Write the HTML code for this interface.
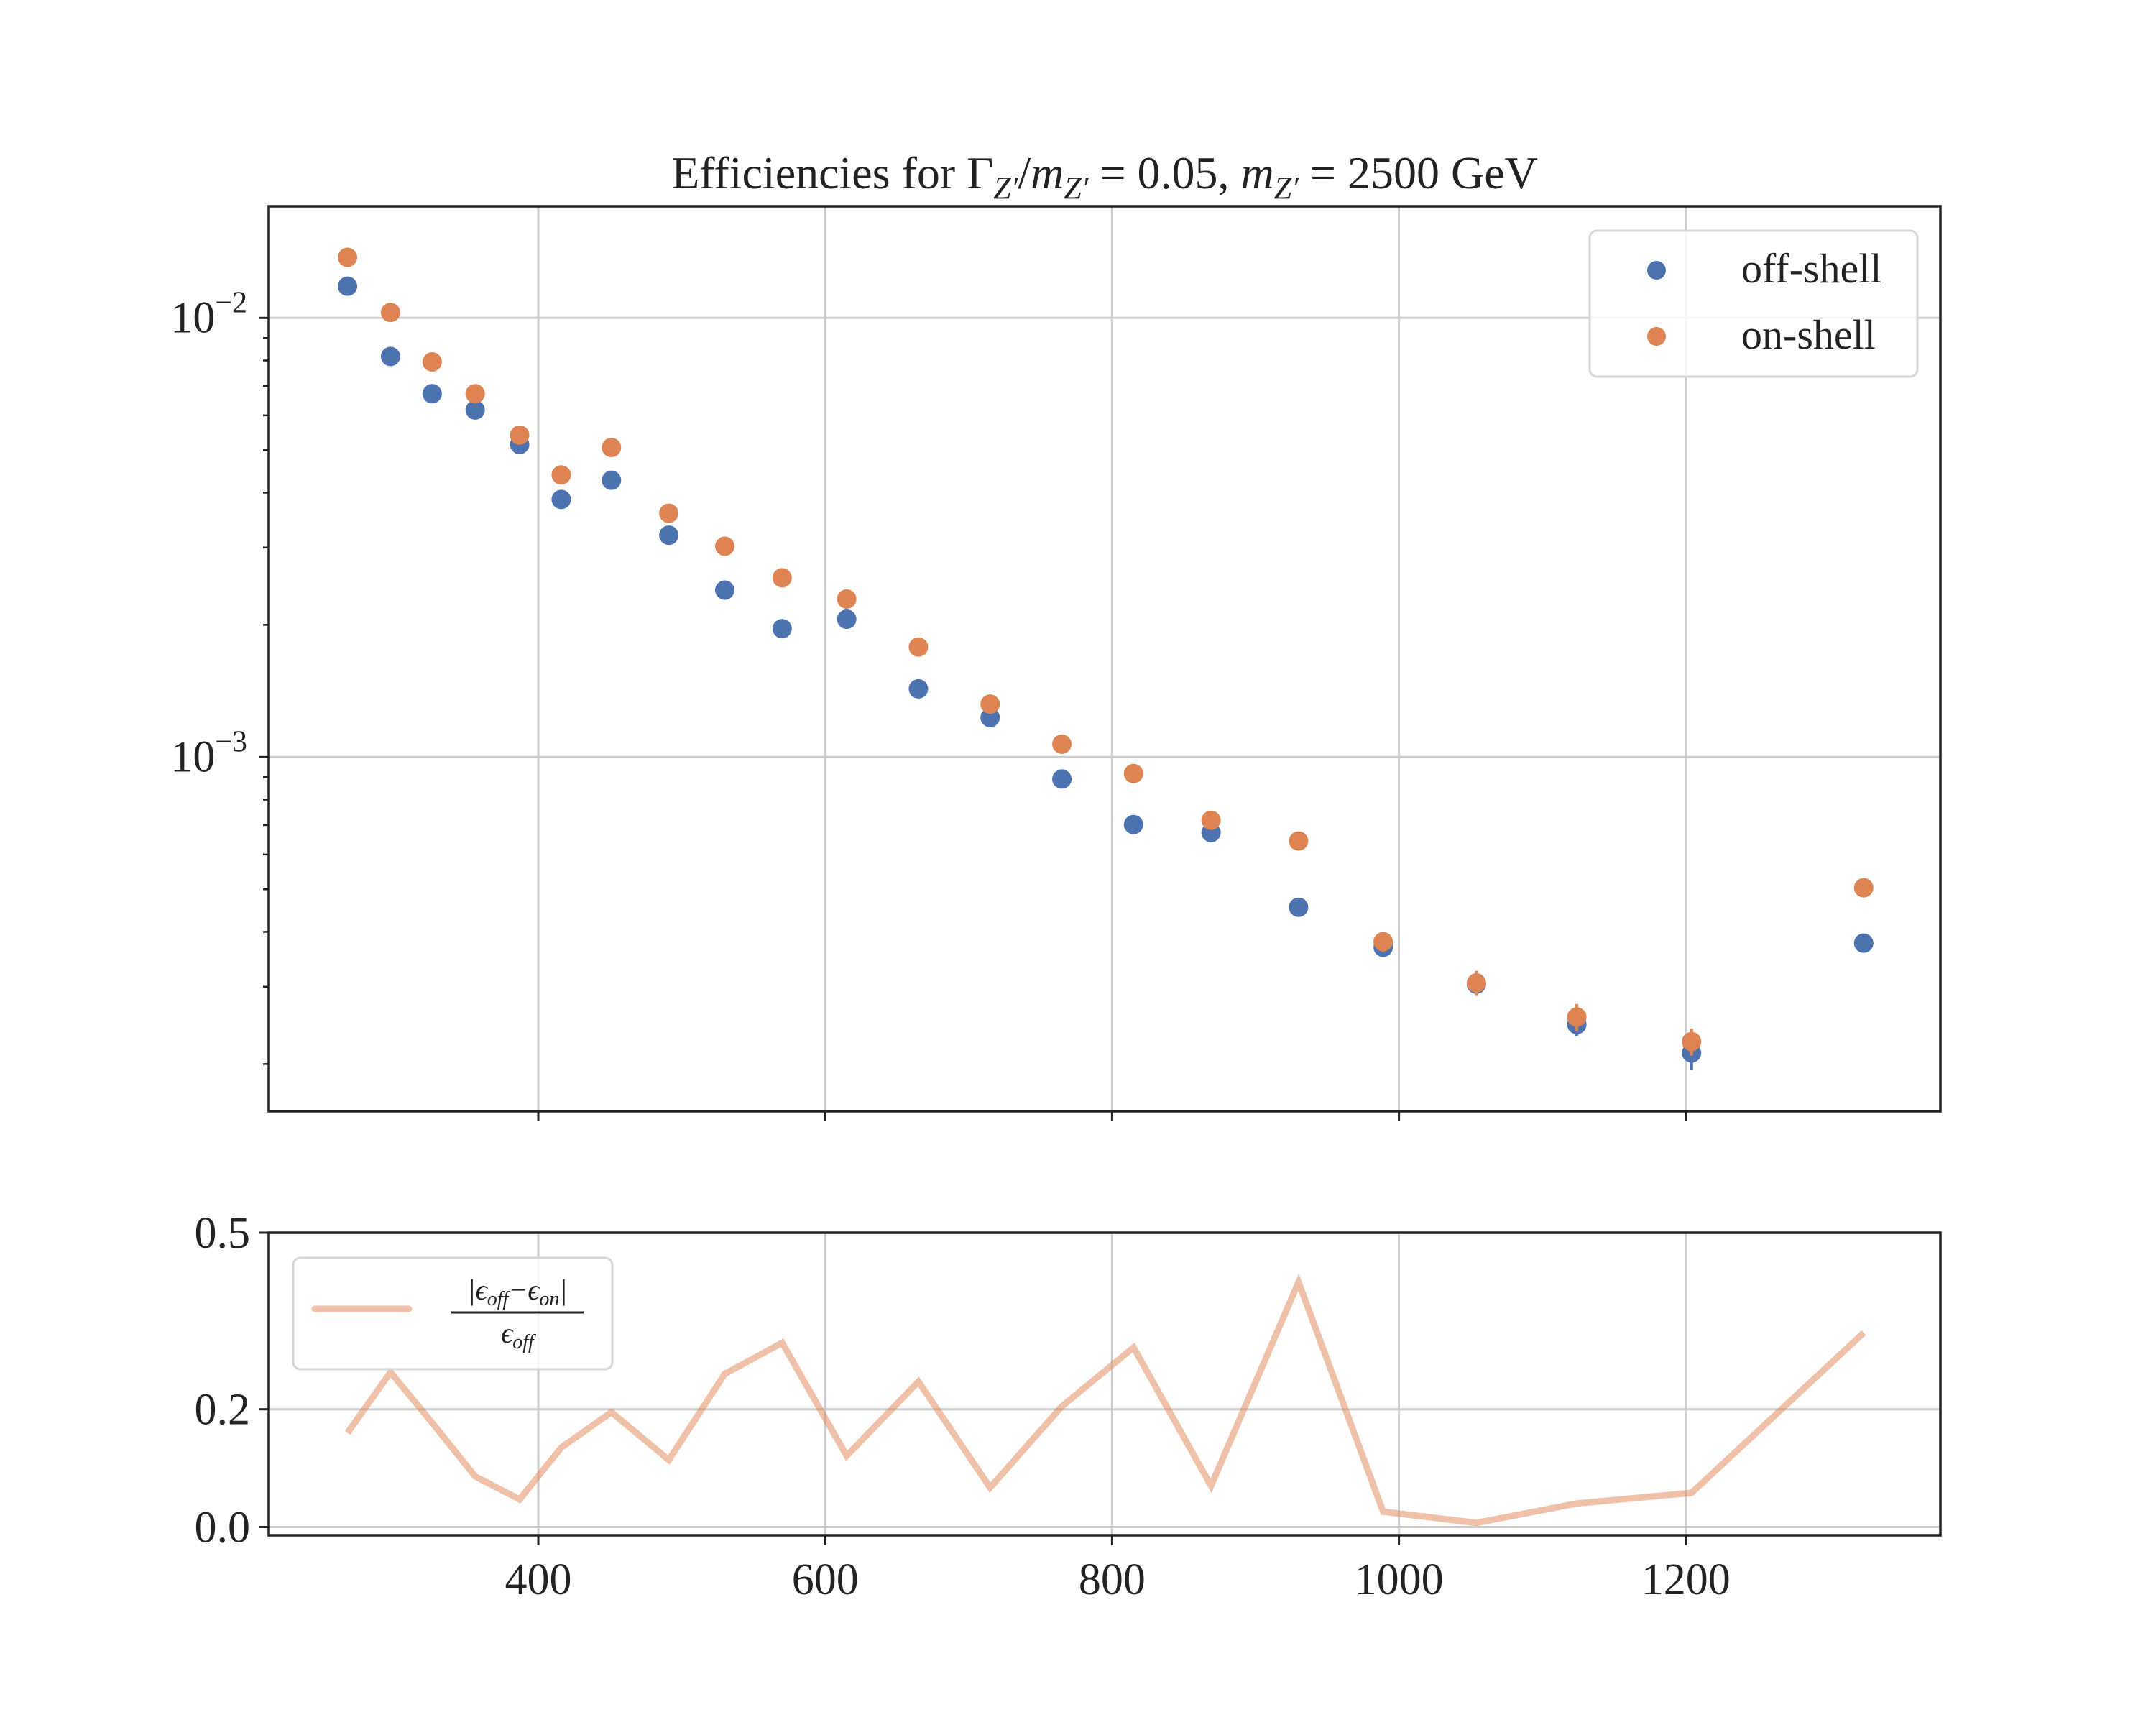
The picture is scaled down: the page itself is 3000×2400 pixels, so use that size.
<!DOCTYPE html>
<html><head><meta charset="utf-8"><style>
html,body{margin:0;padding:0;background:#fff;}
svg{display:block;font-family:"Liberation Serif","DejaVu Serif",serif;}
</style></head><body>
<svg id="chart" xmlns="http://www.w3.org/2000/svg" width="3000" height="2400" viewBox="0 0 3000 2400">
<rect x="0" y="0" width="3000" height="2400" fill="#fff"/>
<g id="topPanel"></g><g id="botPanel"></g>
<text x="1537" y="262" font-size="64" text-anchor="middle" fill="#222">Efficiencies for Γ<tspan font-style="italic" font-size="44" dy="14">Z′</tspan><tspan dy="-14">/</tspan><tspan font-style="italic">m</tspan><tspan font-style="italic" font-size="44" dy="14">Z′</tspan><tspan dy="-14"> = 0.05, </tspan><tspan font-style="italic">m</tspan><tspan font-style="italic" font-size="44" dy="14">Z′</tspan><tspan dy="-14"> = 2500 GeV</tspan></text>
</svg>
<script>
const masses=[267,297,326,356,387,416,451,491,530,570,615,665,715,765,815,869,930,989,1054,1124,1204,1324];
const offShell=[0.01181,0.00817,0.00672,0.00617,0.00515,0.00386,0.00427,0.00320,0.00240,0.00196,0.00206,0.00143,0.00123,0.000891,0.000702,0.000673,0.000455,0.000369,0.000304,0.000246,0.000212,0.000377];
const onShell=[0.01374,0.01029,0.00794,0.00672,0.00541,0.00439,0.00507,0.00359,0.00302,0.00256,0.00229,0.00178,0.00132,0.00107,0.000917,0.000718,0.000644,0.000380,0.000306,0.000256,0.000225,0.000504];
const offErr=[0.0001,0.00008,0.00007,0.00006,0.00005,0.00004,0.00004,0.00004,0.00003,0.00003,0.00003,0.00002,0.00002,0.00002,0.00002,0.00002,0.000015,0.000015,0.000015,0.000014,0.000018,0.000012];
const onErr=[0.0001,0.00009,0.00008,0.00007,0.00006,0.00005,0.00005,0.00004,0.00004,0.00004,0.00003,0.00003,0.00004,0.00003,0.00003,0.00003,0.00003,0.00002,0.00002,0.000018,0.000016,0.000022];
const ratio=[0.160,0.263,0.177,0.086,0.047,0.135,0.195,0.114,0.260,0.313,0.121,0.247,0.067,0.205,0.305,0.070,0.416,0.026,0.007,0.040,0.058,0.330];
const xTicks=[400,600,800,1000,1200];
const ratioTicks=[0.0,0.2,0.5];
const ratioTickLabels=["0.0","0.2","0.5"];
const NS="http://www.w3.org/2000/svg";
const L=374,R=2700,T1=287,B1=1546,T2=1715,B2=2136;
const X=v=>749+(v-400)*1.996;
const Y1=v=>442.3-611*Math.log10(v/0.01);
const Y2=v=>2124.5-819*v;
function mk(p,tag,a){const e=document.createElementNS(NS,tag);for(const k in a)e.setAttribute(k,a[k]);p.appendChild(e);return e;}
const gTop=document.getElementById('topPanel'),gBot=document.getElementById('botPanel');
xTicks.forEach(t=>{const g=mk(gTop,'line',{x1:X(t),x2:X(t),y1:T1,y2:B1,stroke:'#cccccc','stroke-width':3});


const tk=mk(gTop,'line',{x1:X(t),x2:X(t),y1:B1,y2:B1+14,stroke:'#222','stroke-width':3});

});
[0.01,0.001].forEach((d,i)=>{const g=mk(gTop,'line',{x1:L,x2:R,y1:Y1(d),y2:Y1(d),stroke:'#cccccc','stroke-width':3});


const tk=mk(gTop,'line',{x1:L-14,x2:L,y1:Y1(d),y2:Y1(d),stroke:'#222','stroke-width':3});


const tx=mk(gTop,'text',{x:L-30,y:Y1(d)+20,'font-size':62,'text-anchor':'end',fill:'#222'});


tx.innerHTML='10<tspan font-size="42" dy="-28">−'+(i+2)+'</tspan>';});
[0.0001,0.001,0.01].forEach(d=>{for(let m=2;m<10;m++){const v=d*m;const y=Y1(v);if(y>T1&&y<B1){
const tk=mk(gTop,'line',{x1:L-8,x2:L,y1:y,y2:y,stroke:'#222','stroke-width':2.5});

}}});
function series(vals,errs,color,name){vals.forEach((v,i)=>{
const e=mk(gTop,'line',{x1:X(masses[i]),x2:X(masses[i]),y1:Y1(v+errs[i]),y2:Y1(Math.max(v-errs[i],1e-6)),stroke:color,'stroke-width':4});


const c=mk(gTop,'circle',{cx:X(masses[i]),cy:Y1(v),r:13.5,fill:color});

});}
series(offShell,offErr,'#4c72b0','off-shell');
series(onShell,onErr,'#dd8452','on-shell');
const f1=mk(gTop,'rect',{x:L,y:T1,width:R-L,height:B1-T1,fill:'none',stroke:'#222','stroke-width':3.5});


const lg=mk(gTop,'g',{});


mk(lg,'rect',{x:2212,y:321,width:456,height:203,rx:10,fill:'#fff','fill-opacity':0.8,stroke:'#d6d6d6','stroke-width':3});
const e1=mk(lg,'circle',{cx:2305,cy:376,r:13,fill:'#4c72b0'});


const e2=mk(lg,'circle',{cx:2305,cy:468,r:13,fill:'#dd8452'});


const t1=mk(lg,'text',{x:2423,y:393,'font-size':58,fill:'#222'});t1.textContent='off-shell';


const t2=mk(lg,'text',{x:2423,y:485,'font-size':58,fill:'#222'});t2.textContent='on-shell';


xTicks.forEach(t=>{const g=mk(gBot,'line',{x1:X(t),x2:X(t),y1:T2,y2:B2,stroke:'#cccccc','stroke-width':3});


const tk=mk(gBot,'line',{x1:X(t),x2:X(t),y1:B2,y2:B2+14,stroke:'#222','stroke-width':3});


const tx=mk(gBot,'text',{x:X(t),y:2218,'font-size':62,'text-anchor':'middle',fill:'#222'});tx.textContent=t;

});
ratioTicks.forEach((t,i)=>{const g=mk(gBot,'line',{x1:L,x2:R,y1:Y2(t),y2:Y2(t),stroke:'#cccccc','stroke-width':3});


const tk=mk(gBot,'line',{x1:L-14,x2:L,y1:Y2(t),y2:Y2(t),stroke:'#222','stroke-width':3});


const tx=mk(gBot,'text',{x:L-26,y:Y2(t)+21,'font-size':62,'text-anchor':'end',fill:'#222'});tx.textContent=ratioTickLabels[i];

});
const pl=mk(gBot,'polyline',{points:ratio.map((v,i)=>X(masses[i])+','+Y2(v)).join(' '),fill:'none',stroke:'#dd8452','stroke-opacity':0.5,'stroke-width':9,'stroke-linejoin':'miter'});


const f2=mk(gBot,'rect',{x:L,y:T2,width:R-L,height:B2-T2,fill:'none',stroke:'#222','stroke-width':3.5});


const bl=mk(gBot,'g',{});


mk(bl,'rect',{x:408,y:1750,width:444,height:155,rx:10,fill:'#fff','fill-opacity':0.8,stroke:'#d6d6d6','stroke-width':3});
const ls=mk(bl,'line',{x1:438,x2:569,y1:1821,y2:1821,stroke:'#dd8452','stroke-opacity':0.5,'stroke-width':9,'stroke-linecap':'round'});


const nu=mk(bl,'text',{x:720,y:1808,'font-size':40,'text-anchor':'middle',fill:'#222','font-style':'italic'});
nu.innerHTML='|ϵ<tspan font-size="28" dy="8">off</tspan><tspan dy="-8">−ϵ</tspan><tspan font-size="28" dy="8">on</tspan><tspan dy="-8">|</tspan>';


mk(bl,'line',{x1:628,x2:812,y1:1826,y2:1826,stroke:'#222','stroke-width':3});
const de=mk(bl,'text',{x:720,y:1868,'font-size':40,'text-anchor':'middle',fill:'#222','font-style':'italic'});
de.innerHTML='ϵ<tspan font-size="28" dy="8">off</tspan>';


</script>
</body></html>
